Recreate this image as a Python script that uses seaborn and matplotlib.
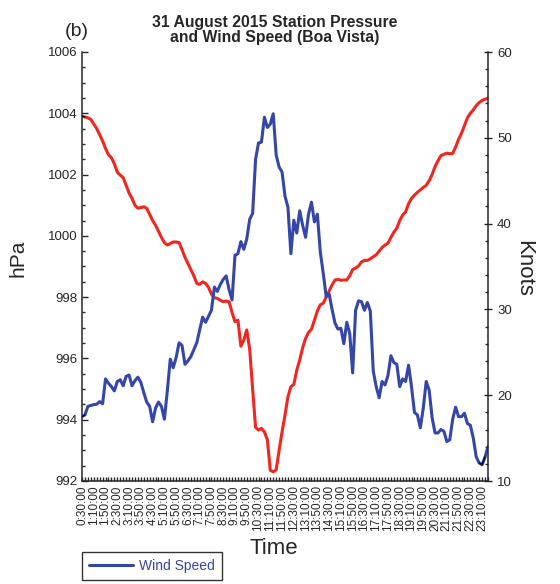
import matplotlib
matplotlib.use("Agg")
import matplotlib.pyplot as plt
from matplotlib.ticker import MultipleLocator
from matplotlib.lines import Line2D
import seaborn as sns
import pandas as pd
import numpy as np

# 10-minute samples starting at 0:30:00
pressure_hpa = [
    1003.90, 1003.88, 1003.85, 1003.80, 1003.65, 1003.50, 1003.30, 1003.10, 1002.85, 1002.65,
    1002.55, 1002.35, 1002.08, 1001.98, 1001.90, 1001.65, 1001.40, 1001.22, 1001.00, 1000.90,
    1000.92, 1000.95, 1000.90, 1000.70, 1000.50, 1000.35, 1000.15, 999.95, 999.78, 999.70,
    999.75, 999.80, 999.80, 999.78, 999.55, 999.30, 999.10, 998.90, 998.70, 998.45,
    998.42, 998.50, 998.45, 998.32, 998.10, 997.98, 997.96, 997.90, 997.85, 997.87,
    997.85, 997.50, 997.20, 997.25, 996.40, 996.60, 996.93, 996.30, 995.00, 993.75,
    993.66, 993.72, 993.60, 993.35, 992.35, 992.30, 992.36, 993.00, 993.60, 994.15,
    994.75, 995.08, 995.15, 995.62, 995.95, 996.35, 996.65, 996.85, 996.95, 997.25,
    997.55, 997.75, 997.80, 998.00, 998.20, 998.40, 998.56, 998.58, 998.55, 998.56,
    998.56, 998.70, 998.90, 998.95, 999.02, 999.15, 999.20, 999.20, 999.25, 999.32,
    999.38, 999.50, 999.62, 999.70, 999.76, 999.95, 1000.12, 1000.25, 1000.50, 1000.68,
    1000.78, 1001.05, 1001.22, 1001.33, 1001.42, 1001.50, 1001.58, 1001.65, 1001.80, 1002.00,
    1002.26, 1002.45, 1002.62, 1002.66, 1002.70, 1002.68, 1002.69, 1002.90, 1003.15, 1003.35,
    1003.60, 1003.85, 1004.00, 1004.11, 1004.25, 1004.35, 1004.42, 1004.46, 1004.49,
]

wind_kt = [
    17.5, 17.7, 18.7, 18.8, 18.9, 18.95, 19.25, 19.0, 21.9, 21.4,
    21.0, 20.5, 21.6, 21.8, 21.1, 22.2, 22.35, 21.1, 21.7, 22.1,
    21.5, 20.3, 19.2, 18.7, 16.9, 18.5, 19.2, 18.7, 17.2, 20.5,
    24.2, 23.2, 24.4, 26.1, 25.8, 23.6, 24.0, 24.5, 25.3, 26.1,
    27.6, 29.1, 28.5, 29.2, 29.9, 32.6, 32.1, 32.9, 33.5, 33.9,
    32.3, 31.1, 36.3, 36.5, 37.9, 37.0, 38.2, 40.5, 41.2, 47.5,
    49.4, 49.5, 52.4, 51.2, 51.6, 52.8, 48.0, 46.6, 46.0, 43.2,
    41.9, 36.5, 40.4, 38.9, 41.5, 39.8, 38.4, 41.1, 42.5, 40.2,
    41.1, 36.7, 34.2, 31.5, 31.8, 30.0, 28.4, 27.7, 27.8, 26.0,
    28.5, 27.2, 22.6, 29.9, 31.0, 30.9, 29.9, 30.8, 29.8, 22.8,
    21.0, 19.7, 21.6, 21.2, 22.3, 24.6, 23.8, 23.6, 21.0, 21.9,
    21.6, 23.5, 21.0, 18.0, 17.7, 16.2, 18.5, 21.6, 20.6, 17.4,
    15.6, 15.6, 16.0, 15.8, 14.6, 14.8, 17.2, 18.6, 17.5, 17.5,
    17.9, 16.7, 16.5, 15.0, 12.8, 12.1, 11.9, 12.8, 14.0,
]

time_labels = [
    "0:30:00", "1:10:00", "1:50:00", "2:30:00", "3:10:00", "3:50:00", "4:30:00",
    "5:10:00", "5:50:00", "6:30:00", "7:10:00", "7:50:00", "8:30:00", "9:10:00",
    "9:50:00", "10:30:00", "11:10:00", "11:50:00", "12:30:00", "13:10:00", "13:50:00",
    "14:30:00", "15:10:00", "15:50:00", "16:30:00", "17:10:00", "17:50:00", "18:30:00",
    "19:10:00", "19:50:00", "20:30:00", "21:10:00", "21:50:00", "22:30:00", "23:10:00",
]

RED = "#f0261f"
BLUE = "#3446a8"

sns.set_style("ticks")
plt.rcParams["font.family"] = ["Liberation Sans", "DejaVu Sans"]

df = pd.DataFrame({
    "step": np.arange(len(pressure_hpa)),
    "pressure": pressure_hpa,
    "wind": wind_kt,
})

fig = plt.figure(figsize=(5.6, 5.84), dpi=100)
ax = fig.add_axes([82 / 560, 1 - 481 / 584, (488 - 82) / 560, (481 - 52) / 584])
ax2 = ax.twinx()

sns.lineplot(data=df, x="step", y="pressure", ax=ax, color=RED, lw=2.2)
sns.lineplot(data=df, x="step", y="wind", ax=ax2, color=BLUE, lw=2.2)
# small black end marks seen in the original
ax.plot(df["step"][:2], df["pressure"][:2], color="k", lw=0.9)
ax2.plot(df["step"][:2], df["wind"][:2], color="k", lw=0.9)
ax2.plot(df["step"][-4:-1], df["wind"][-4:-1], color="k", lw=0.9)

ax.set_xlim(0, len(pressure_hpa) - 1)
ax.set_ylim(992, 1006)
ax2.set_ylim(10, 60)

ax.xaxis.set_minor_locator(MultipleLocator(1))
ax.set_xticks(np.arange(0, 4 * len(time_labels), 4))
ax.set_xticklabels(time_labels, rotation=90, fontsize=8.5)
ax.yaxis.set_major_locator(MultipleLocator(2))
ax.yaxis.set_minor_locator(MultipleLocator(0.5))
ax2.yaxis.set_major_locator(MultipleLocator(10))
ax2.yaxis.set_minor_locator(MultipleLocator(2))

for a in (ax, ax2):
    a.tick_params(which="both", direction="in", width=1, labelsize=9.5)
    a.tick_params(which="major", length=4.5)
    a.tick_params(which="minor", length=2.5)
    a.spines["top"].set_visible(False)
    for s in ("left", "right", "bottom"):
        a.spines[s].set_linewidth(1.1)
ax2.tick_params(which="major", direction="inout", length=6)
ax.tick_params(axis="x", which="both", length=3, labelsize=8.5, pad=3)
ax.spines["right"].set_visible(False)
ax2.spines["left"].set_visible(False)
ax2.spines["bottom"].set_visible(False)

ax.set_xlabel("Time", fontsize=16, va="center")
ax.xaxis.set_label_coords((274 - 82) / 406, (481 - 548) / 429)
ax.set_ylabel("hPa", fontsize=15, va="center")
ax.yaxis.set_label_coords((18 - 82) / 406, (481 - 258) / 429)
ax2.set_ylabel("Knots", fontsize=16, rotation=270, va="center")
ax2.yaxis.set_label_coords((524 - 82) / 406, (481 - 268) / 429)

fig.text(275 / 560, 1 - 30 / 584, "31 August 2015 Station Pressure\nand Wind Speed (Boa Vista)",
         ha="center", va="center", fontsize=11.3, fontweight="bold", linespacing=1.0)
fig.text(77 / 560, 1 - 31 / 584, "(b)", ha="center", va="center", fontsize=14)

handle = Line2D([], [], color=BLUE, lw=2.2)
leg = fig.legend([handle], ["Wind Speed"], loc="upper left",
                 bbox_to_anchor=(82 / 560, 1 - 552 / 584), borderaxespad=0, frameon=True,
                 fancybox=False, fontsize=10, handlelength=3.2, handletextpad=0.4,
                 borderpad=0.5, labelcolor=BLUE)
leg.get_frame().set_edgecolor("black")
leg.get_frame().set_linewidth(1.0)

fig.savefig("out.png", dpi=100)
